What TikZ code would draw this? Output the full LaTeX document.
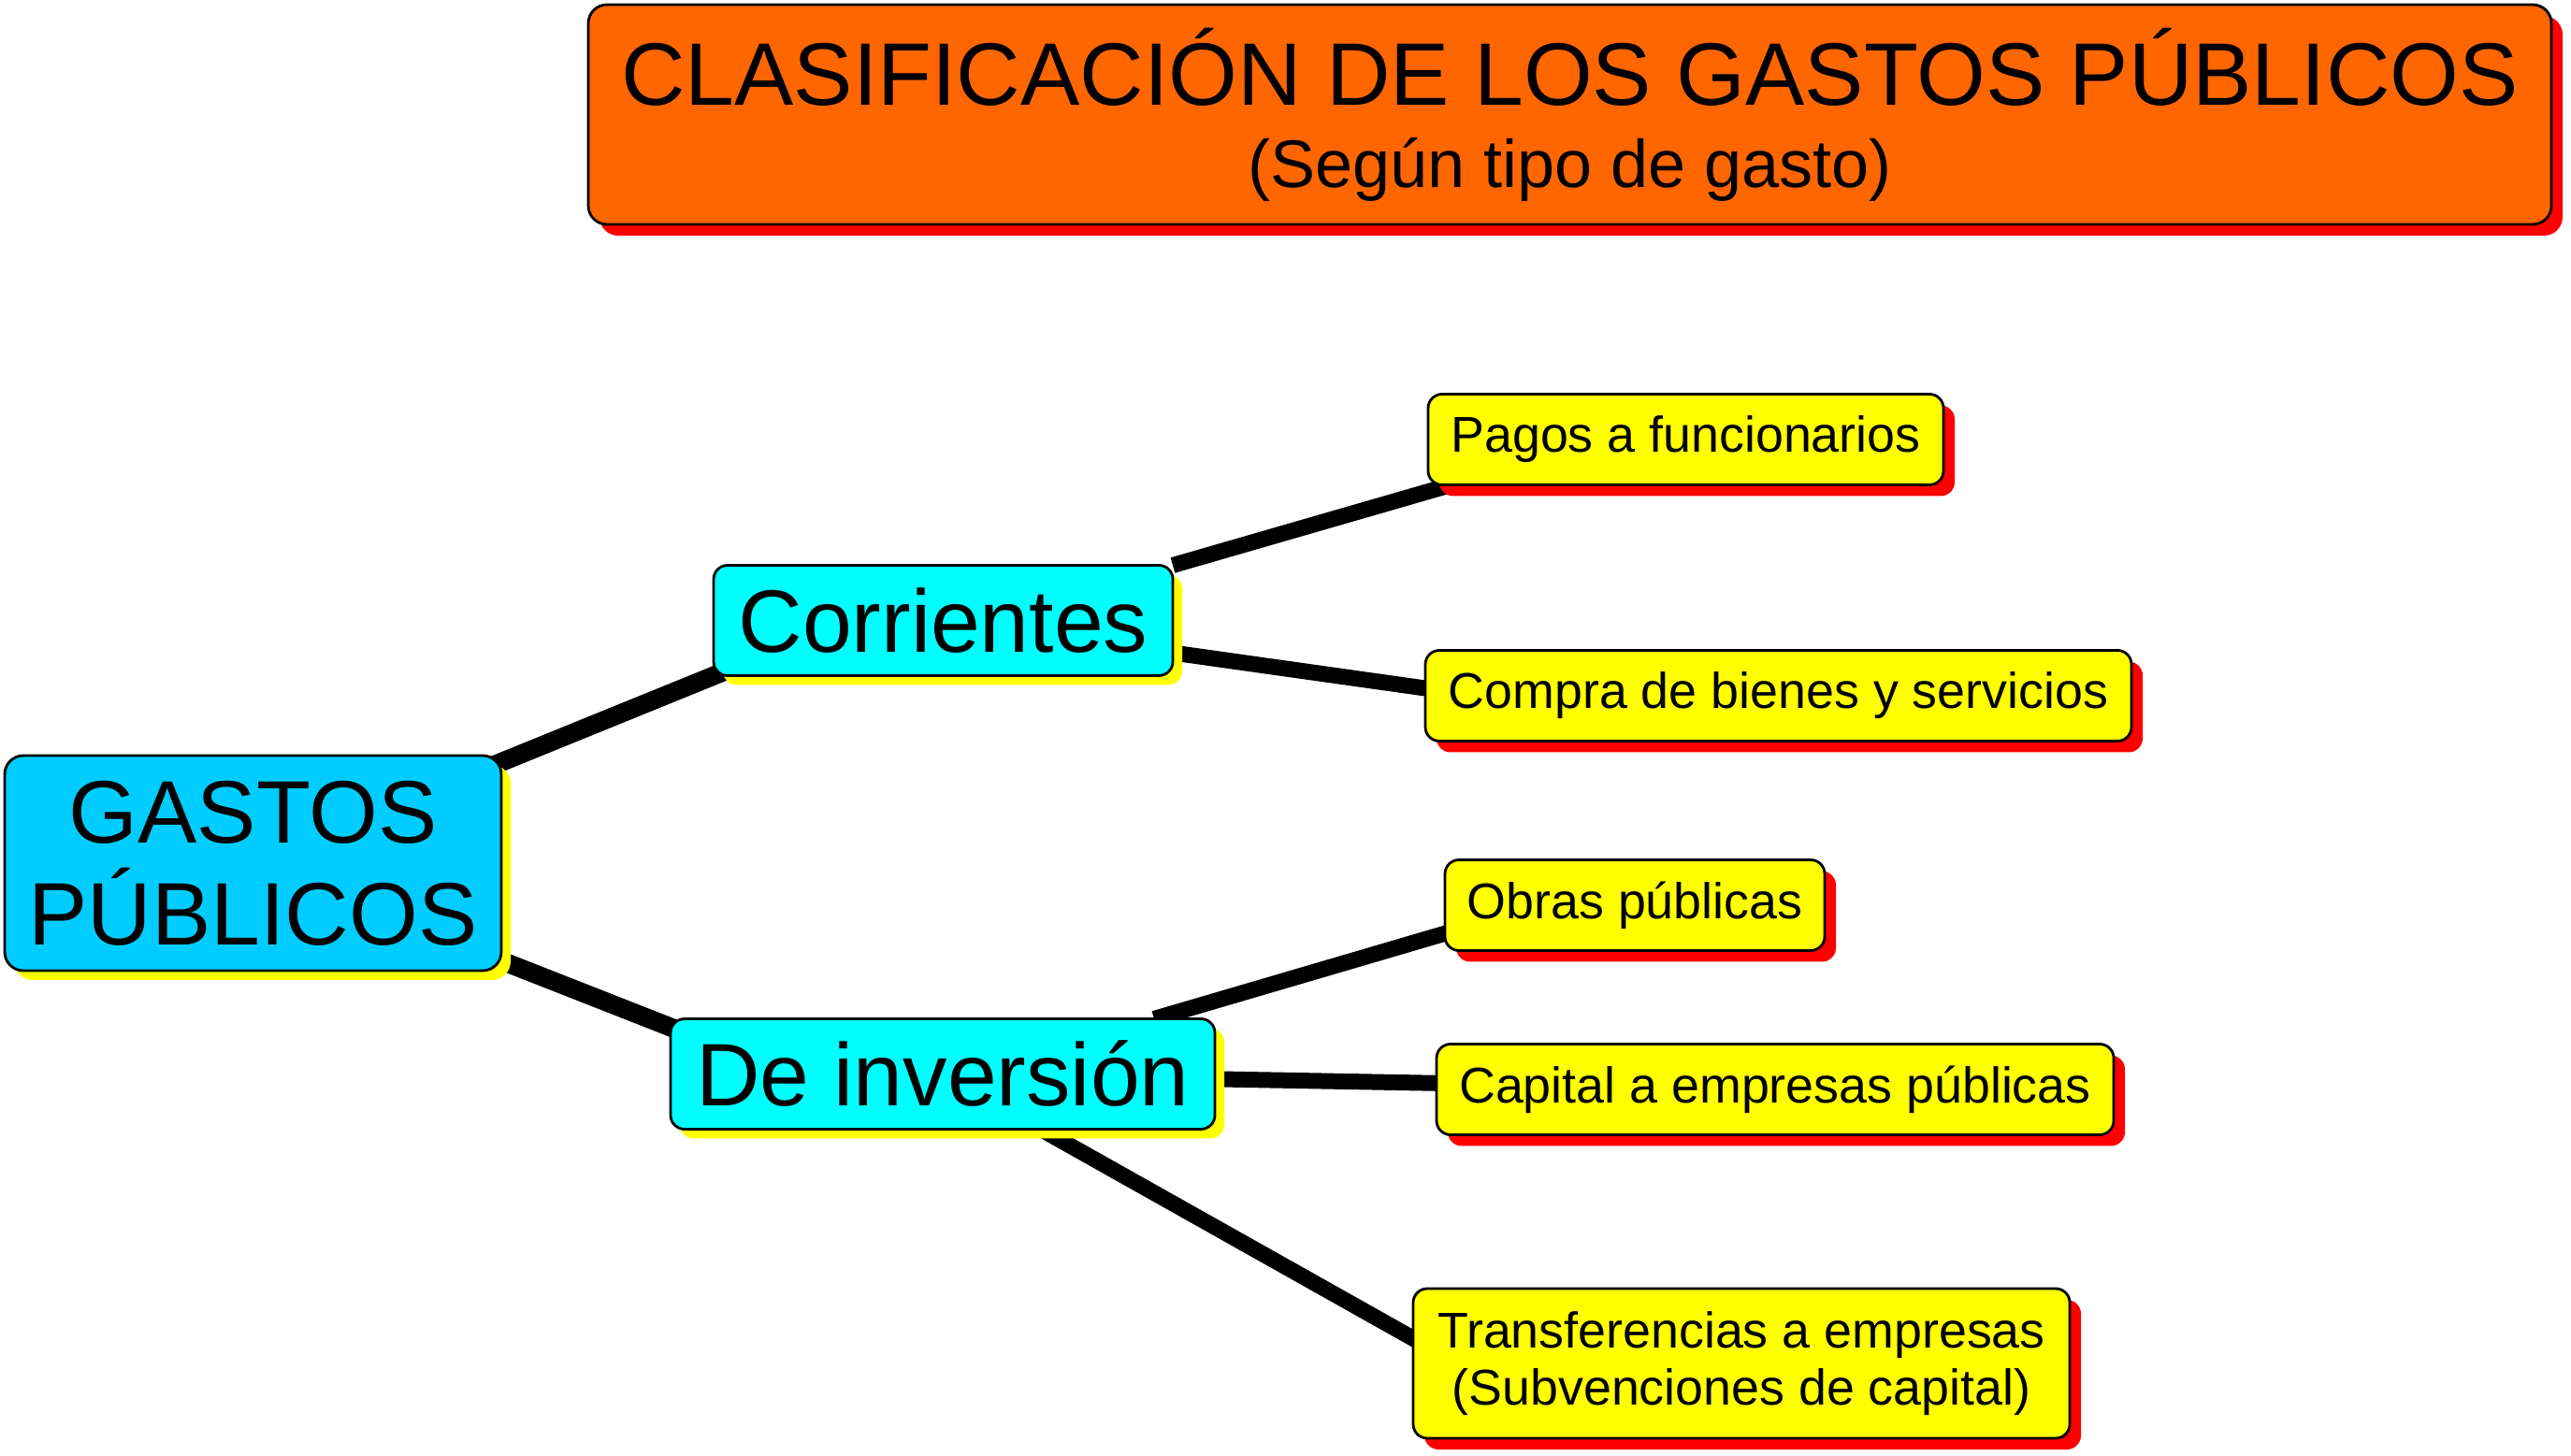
\documentclass[tikz,border=0pt]{standalone}
\usepackage{fontspec}
\setmainfont{Liberation Sans}
\usetikzlibrary{positioning,shadows,backgrounds}

\definecolor{naranja}{HTML}{FF6600}
\definecolor{celeste}{HTML}{00CCFF}
\definecolor{cian}{HTML}{00FFFF}
\definecolor{amarillo}{HTML}{FFFF00}
\definecolor{rojo}{HTML}{FF0000}

\tikzset{
  caja/.style={draw=black, line width=0.8pt, rounded corners=1.5mm, align=center, inner sep=0pt, outer sep=0pt},
  sombra roja/.style={drop shadow={fill=rojo, opacity=1, shadow xshift=1.2mm, shadow yshift=-1.2mm}},
  sombra amarilla/.style={drop shadow={fill=amarillo, opacity=1, shadow xshift=1mm, shadow yshift=-1mm}},
  titulo/.style={caja, fill=naranja, rounded corners=2mm, sombra roja, minimum width=20.99cm, minimum height=2.35cm, font=\fontsize{27}{25}\selectfont},
  raiz/.style={caja, fill=celeste, rounded corners=2mm, sombra amarilla, minimum width=5.31cm, minimum height=2.3cm, font=\fontsize{27}{31}\selectfont},
  rama/.style={caja, fill=cian, sombra amarilla, minimum height=1.18cm, font=\fontsize{27}{31}\selectfont},
  hoja/.style={caja, fill=amarillo, sombra roja, minimum height=0.97cm, font=\fontsize{15.3}{17.4}\selectfont},
  grueso/.style={line width=0.2cm},
  fino/.style={line width=0.17cm}
}

\begin{document}
\begin{tikzpicture}
    \useasboundingbox (0,0) rectangle (27.49,15.56);
    \node[titulo] (title) at (16.785,14.335) {CLASIFICACIÓN DE LOS GASTOS PÚBLICOS\\{\fontsize{20.5}{25}\selectfont (Según tipo de gasto)}};
    \node[raiz] (gastos) at (2.705,6.33) {GASTOS\\PÚBLICOS};
    \node[rama, minimum width=4.91cm] (corr) [right=2.27cm of gastos, yshift=2.595cm] {Corrientes};
    \node[rama, minimum width=5.82cm] (deinv) [right=1.81cm of gastos, yshift=-2.255cm] {De inversión};
    \node[hoja, minimum width=5.51cm] (pagos) [right=2.73cm of corr, yshift=1.935cm] {Pagos a funcionarios};
    \node[hoja, minimum width=7.55cm] (compra) [right=2.70cm of corr, yshift=-0.805cm] {Compra de bienes y servicios};
    \node[hoja, minimum width=4.06cm] (obras) [right=2.46cm of deinv, yshift=1.805cm] {Obras públicas};
    \node[hoja, minimum width=7.24cm] (capital) [right=2.37cm of deinv, yshift=-0.165cm] {Capital a empresas públicas};
    \node[hoja, minimum width=7.02cm, minimum height=1.6cm] (transf) [right=2.12cm of deinv, yshift=-3.095cm] {Transferencias a empresas\\(Subvenciones de capital)};
    \begin{pgfonlayer}{background}
        \path[grueso]
            (gastos.center) edge ([xshift=-1cm]corr.center)
            (gastos.center) edge ([xshift=-1cm,yshift=-2.5mm]deinv.center);
        \path[fino]
            (corr.north east) edge ([yshift=2.4mm]pagos.center)
            (corr.center) edge ([xshift=-2cm,yshift=-1.7mm]compra.center)
            ([xshift=-0.65cm]deinv.north east) edge ([xshift=-1cm]obras.center)
            (deinv.center) edge (capital.center)
            (deinv.center) edge ([xshift=0.9cm,yshift=-2.4mm]transf.west);
    \end{pgfonlayer}
\end{tikzpicture}
\end{document}
